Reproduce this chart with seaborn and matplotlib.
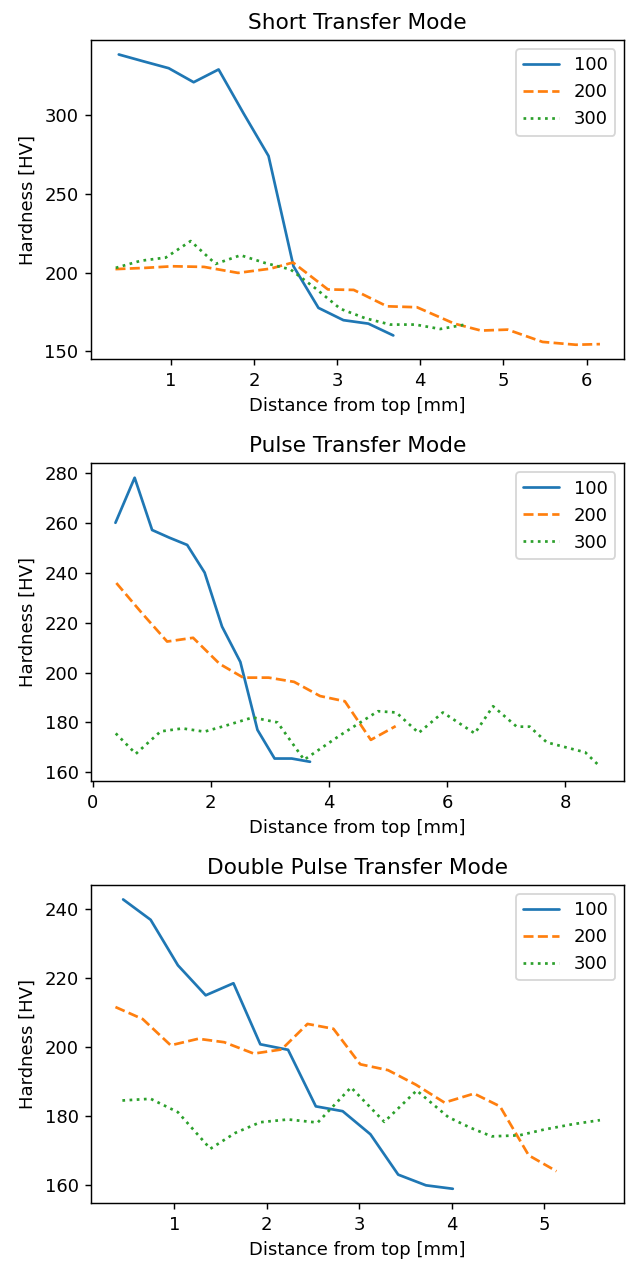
import numpy as np
import pandas as pd
import matplotlib
matplotlib.use("Agg")
import matplotlib.pyplot as plt
from matplotlib.ticker import MultipleLocator
import seaborn as sns

# ---------------- data ----------------
titles = ["Short Transfer Mode", "Pulse Transfer Mode", "Double Pulse Transfer Mode"]
series_labels = ["100", "200", "300"]

# Short Transfer Mode
short_x_100 = [0.376, 0.676, 0.976, 1.276, 1.576, 1.876, 2.176, 2.476, 2.776, 3.076, 3.376, 3.676]
short_y_100 = [338.4, 334.0, 329.7, 320.8, 328.9, 301.0, 274.0, 204.0, 177.6, 169.8, 167.6, 160.1]
short_x_200 = [0.336, 0.70, 1.02, 1.40, 1.81, 2.20, 2.47, 2.89, 3.20, 3.60, 3.96, 4.41, 4.73, 5.05, 5.47, 5.87, 6.16]
short_y_200 = [202.2, 203.0, 204.0, 203.6, 199.8, 202.5, 206.4, 189.3, 189.0, 178.6, 178.0, 167.6, 163.2, 163.8, 156.0, 154.2, 154.6]
short_x_300 = [0.34, 0.64, 0.94, 1.24, 1.54, 1.84, 2.14, 2.44, 2.74, 3.04, 3.34, 3.64, 3.94, 4.24, 4.54]
short_y_300 = [203.0, 207.5, 209.5, 220.0, 205.5, 211.0, 206.0, 202.0, 190.0, 177.0, 171.0, 167.0, 167.0, 164.2, 167.0]

# Pulse Transfer Mode
pulse_x_100 = [0.385, 0.71, 1.006, 1.30, 1.60, 1.895, 2.19, 2.50, 2.79, 3.08, 3.37, 3.68]
pulse_y_100 = [260.2, 278.3, 257.3, 254.2, 251.3, 240.2, 218.5, 204.3, 177.0, 165.5, 165.5, 164.2]
pulse_x_200 = [0.40, 0.83, 1.26, 1.70, 2.15, 2.55, 2.98, 3.41, 3.85, 4.27, 4.71, 5.13]
pulse_y_200 = [236.0, 224.0, 212.5, 214.0, 203.5, 198.0, 198.0, 196.3, 190.6, 188.5, 173.0, 178.5]
pulse_x_300 = [0.39, 0.73, 1.15, 1.52, 1.89, 2.25, 2.71, 3.13, 3.58, 4.20, 4.83, 5.14, 5.52, 5.93,
               6.47, 6.78, 7.18, 7.40, 7.69, 8.11, 8.34, 8.59]
pulse_y_300 = [175.6, 167.4, 176.4, 177.6, 176.3, 178.7, 182.0, 180.0, 165.0, 175.0, 184.5, 184.0, 175.8, 184.0,
               175.6, 186.5, 178.3, 178.3, 172.0, 169.4, 168.0, 162.3]

# Double Pulse Transfer Mode
dpulse_x_100 = [0.448, 0.745, 1.04, 1.34, 1.64, 1.93, 2.23, 2.53, 2.82, 3.12, 3.42, 3.72, 4.01]
dpulse_y_100 = [242.7, 236.8, 223.6, 214.9, 218.4, 200.7, 199.1, 182.7, 181.3, 174.6, 162.9, 159.8, 158.8]
dpulse_x_200 = [0.365, 0.66, 0.962, 1.26, 1.54, 1.86, 2.16, 2.44, 2.72, 3.01, 3.31, 3.61, 3.92, 4.24, 4.52, 4.83, 5.13]
dpulse_y_200 = [211.5, 208.0, 200.4, 202.3, 201.3, 198.0, 199.2, 206.6, 205.2, 194.9, 193.2, 189.0, 183.8, 186.4, 182.7, 168.5, 163.9]
dpulse_x_300 = [0.44, 0.745, 1.04, 1.39, 1.66, 1.93, 2.23, 2.55, 2.91, 3.27, 3.62, 3.96, 4.20, 4.43, 4.73, 5.00, 5.30, 5.60]
dpulse_y_300 = [184.4, 184.9, 181.0, 170.4, 175.0, 178.1, 178.9, 178.0, 188.2, 178.2, 187.3, 179.6, 176.5, 174.0, 174.3, 176.0, 177.5, 178.7]

x_label = "Distance from top [mm]"
y_label = "Hardness [HV]"

x_tick_steps = [1, 2, 1]
y_tick_steps = [50, 20, 20]

panels = [
    [(short_x_100, short_y_100), (short_x_200, short_y_200), (short_x_300, short_y_300)],
    [(pulse_x_100, pulse_y_100), (pulse_x_200, pulse_y_200), (pulse_x_300, pulse_y_300)],
    [(dpulse_x_100, dpulse_y_100), (dpulse_x_200, dpulse_y_200), (dpulse_x_300, dpulse_y_300)],
]

# ---------------- style ----------------
sns.set_style("ticks")
plt.rcParams["font.family"] = ["DejaVu Sans"]
plt.rcParams["axes.edgecolor"] = "black"
plt.rcParams["xtick.color"] = "black"
plt.rcParams["ytick.color"] = "black"
plt.rcParams["axes.labelcolor"] = "black"
plt.rcParams["text.color"] = "black"
plt.rcParams["axes.linewidth"] = 0.8
plt.rcParams["xtick.major.size"] = 3.5
plt.rcParams["ytick.major.size"] = 3.5
plt.rcParams["xtick.major.width"] = 0.8
plt.rcParams["ytick.major.width"] = 0.8

colors = ["#1f77b4", "#ff7f0e", "#2ca02c"]
palette = dict(zip(series_labels, colors))
dashes = {"100": "", "200": (3.7, 1.6), "300": (1, 1.65)}

DPI = 130
fig = plt.figure(figsize=(627 / DPI, 1261 / DPI), dpi=DPI)
positions = [
    [0.1455, 0.7151, 0.850, 0.2532],
    [0.1455, 0.3807, 0.850, 0.2519],
    [0.1455, 0.0458, 0.850, 0.2524],
]

for pos, title, series, xs_step, ys_step in zip(positions, titles, panels, x_tick_steps, y_tick_steps):
    ax = fig.add_axes(pos)
    rows = []
    for lab, (xs, ys) in zip(series_labels, series):
        for xv, yv in zip(xs, ys):
            rows.append({"dist": xv, "hv": yv, "load": lab})
    df = pd.DataFrame(rows)
    sns.lineplot(data=df, x="dist", y="hv", hue="load", style="load",
                 hue_order=series_labels, style_order=series_labels,
                 palette=palette, dashes=dashes, linewidth=1.5,
                 sort=False, estimator=None, ax=ax)
    handles, labels = ax.get_legend_handles_labels()
    keep = [(h, l) for h, l in zip(handles, labels) if l in series_labels]
    ax.legend([h for h, _ in keep], [l for _, l in keep], loc="upper right",
              fontsize=10, frameon=True)
    ax.set_title(title, fontsize=12)
    ax.set_xlabel(x_label, fontsize=10)
    ax.set_ylabel(y_label, fontsize=10)
    ax.tick_params(labelsize=10)
    ax.xaxis.set_major_locator(MultipleLocator(xs_step))
    ax.yaxis.set_major_locator(MultipleLocator(ys_step))
    for s in ax.spines.values():
        s.set_visible(True)

fig.savefig("out.png", dpi=DPI)
